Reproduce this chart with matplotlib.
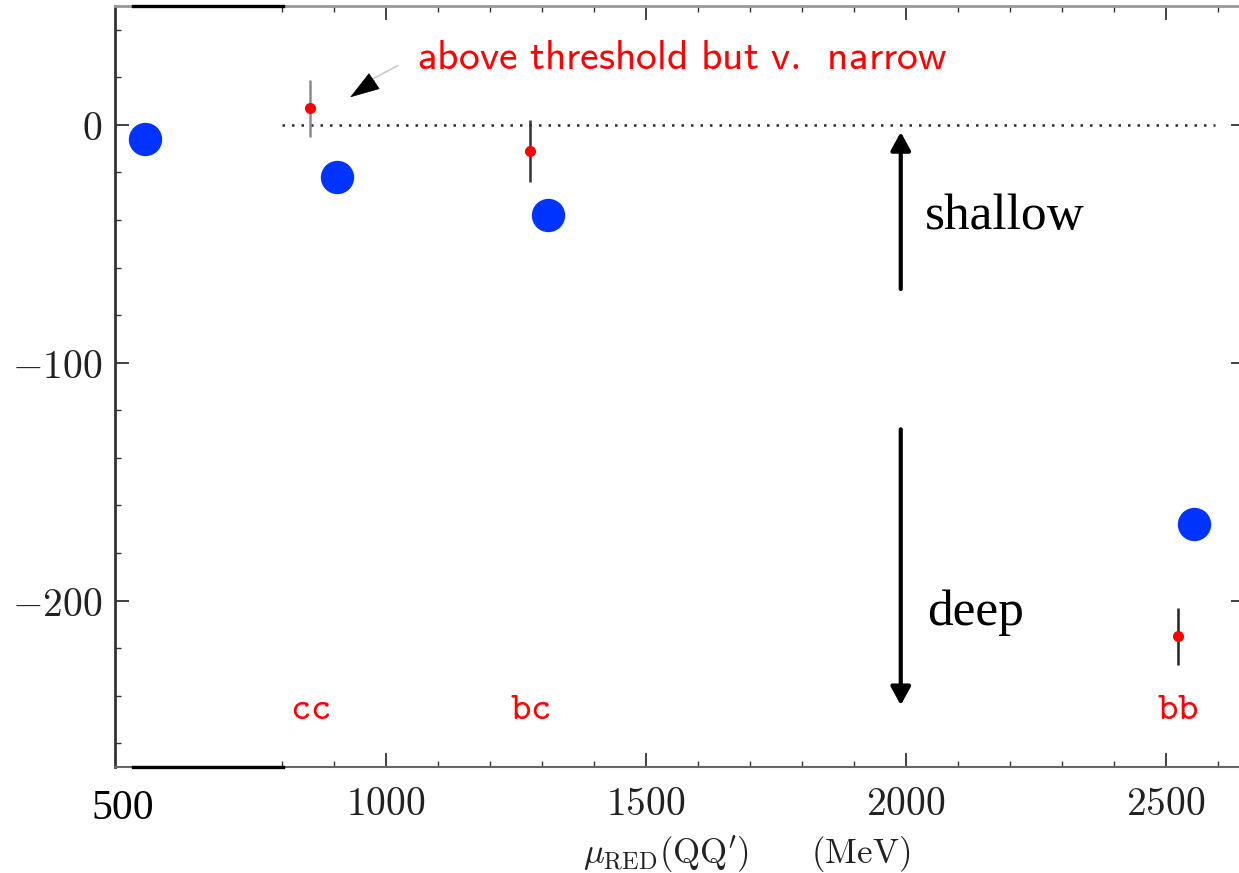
import matplotlib
matplotlib.use("Agg")
import matplotlib.pyplot as plt
from matplotlib.ticker import FuncFormatter, MultipleLocator, FixedLocator

plt.rcParams['mathtext.fontset'] = 'cm'

# model predictions (blue) and lattice points with errors (red)
blue_x = [537, 906, 1312, 2554]
blue_y = [-6, -22, -38, -168]
red_x = [854, 1277, 2523]
red_y = [7, -11, -215]
red_err = [12, 13, 12]
err_colors = ['#8c8c8c', '#333333', '#222222']
flavour_labels = ['cc', 'bc', 'bb']
label_y = -250

xticks = [1000, 1500, 2000, 2500]
xminor = [800, 900, 1100, 1200, 1300, 1400, 1600, 1700, 1800, 1900,
          2100, 2200, 2300, 2400, 2600]
yticks = [0, -100, -200]

fig = plt.figure(figsize=(12.39, 8.73), dpi=100)
ax = fig.add_axes([115 / 1239, 106 / 873, 1130 / 1239, 761 / 873])
ax.set_xlim(479, 2652)
ax.set_ylim(-270, 50)

# threshold line
ax.plot([800, 2595], [0, 0], color='#2a2a2a', lw=1.8, linestyle=(0, (1, 2.8)))

for x, y, e, c in zip(red_x, red_y, red_err, err_colors):
    ax.errorbar(x, y, yerr=e, fmt='none', ecolor=c, elinewidth=1.8, capsize=0)
ax.plot(red_x, red_y, 'o', color='#ff0000', markersize=7, zorder=4)
ax.plot(blue_x, blue_y, 'o', color='#0033ff', markersize=23, zorder=5)

for x, lab in zip(red_x, flavour_labels):
    ax.text(x, label_y, r'$\mathtt{%s}$' % lab, color='#ff0000', fontsize=28,
            ha='center', va='baseline')

# note with arrow
ax.text(1060, 28.5, r'$\mathsf{above\ threshold\ but\ v.\ \,narrow}$', color='#ff0000',
        fontsize=30, ha='left', va='center')
ax.annotate('', xy=(955, 17), xytext=(1023, 25),
            arrowprops=dict(arrowstyle='-', color='#c0c0c0', lw=1, shrinkA=0, shrinkB=0))
ax.annotate('', xy=(931, 11.6), xytext=(978, 18.5),
            arrowprops=dict(arrowstyle='-|>,head_length=2,head_width=0.65',
                            color='black', lw=0.5, shrinkA=0, shrinkB=0))

# shallow / deep arrows
arrow_x = 1990
ax.annotate('', xy=(arrow_x, -3), xytext=(arrow_x, -69),
            arrowprops=dict(arrowstyle='-|>,head_length=1.1,head_width=0.6',
                            color='black', lw=3, shrinkA=0, shrinkB=0))
ax.annotate('', xy=(arrow_x, -244), xytext=(arrow_x, -128),
            arrowprops=dict(arrowstyle='-|>,head_length=1.1,head_width=0.6',
                            color='black', lw=3, shrinkA=0, shrinkB=0))
ax.text(2037, -38.5, 'shallow', fontfamily='Liberation Serif', fontsize=37,
        ha='left', va='center')
ax.text(2040, -205, 'deep', fontfamily='Liberation Serif', fontsize=37,
        ha='left', va='center')

# axes styling
ax.xaxis.set_major_locator(FixedLocator(xticks))
ax.xaxis.set_minor_locator(FixedLocator(xminor))
ax.yaxis.set_major_locator(FixedLocator(yticks))
ax.yaxis.set_minor_locator(MultipleLocator(20))
fmt = FuncFormatter(lambda v, p: r'$%d$' % v)
ax.xaxis.set_major_formatter(fmt)
ax.yaxis.set_major_formatter(fmt)
ax.tick_params(which='both', direction='in', top=True, right=True, colors='#333333')
ax.tick_params(which='major', length=10, width=1.3, labelsize=28.5, labelcolor='#222222')
ax.tick_params(which='minor', length=4, width=1.0)
ax.tick_params(axis='x', pad=12)
ax.tick_params(axis='y', pad=9)

ax.spines['left'].set_linewidth(2)
ax.spines['left'].set_color('#333333')
ax.spines['bottom'].set_linewidth(1.5)
ax.spines['bottom'].set_color('#666666')
ax.spines['top'].set_linewidth(2)
ax.spines['top'].set_color('#999999')
ax.spines['right'].set_color('#999999')

# dark segments on top and bottom frame
for yv in (50, -270):
    ax.plot([513, 802], [yv, yv], color='black', lw=2.4, clip_on=False, zorder=6)

ax.annotate('500', xy=(500, 0), xycoords=('data', 'axes fraction'),
            xytext=(-2, -30), textcoords='offset points', ha='center', va='center',
            fontfamily='Liberation Serif', fontsize=30)

ax.set_xlabel(r'$\mu_{\rm RED}({\rm QQ}^\prime)\qquad({\rm MeV})$', fontsize=25,
              color='#222222')
ax.xaxis.set_label_coords(0.559, -0.088)

fig.savefig('out.png', dpi=100)
